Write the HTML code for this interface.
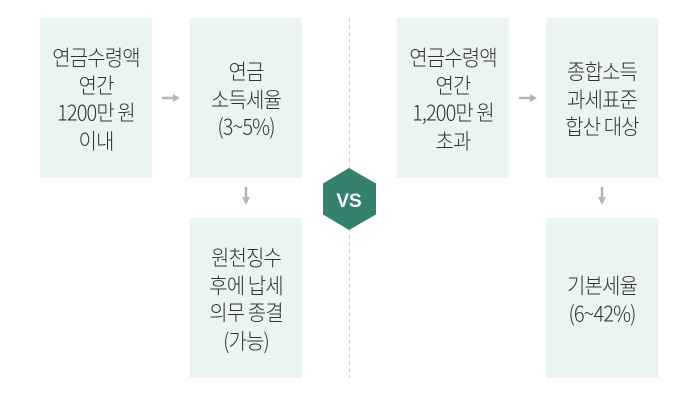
<!DOCTYPE html>
<html><head><meta charset="utf-8"><style>
body{margin:0;width:700px;height:400px;background:#fff;position:relative;overflow:hidden;font-family:"Noto Sans CJK KR","Liberation Sans",sans-serif;}
.b{position:absolute;width:112px;height:160px;background:#eaf4f2;display:flex;align-items:center;justify-content:center;text-align:center;font-size:20px;line-height:25.5px;color:#333;font-weight:300;letter-spacing:-0.9px;white-space:nowrap;}
.b span{display:inline-block;transform:scaleY(1.08);}
svg{position:absolute;left:0;top:0}
</style></head><body>
<div class="b" style="left:40px;top:18px"><span>연금수령액<br>연간<br>1200만 원<br>이내</span></div>
<div class="b" style="left:190px;top:18px"><span>연금<br>소득세율<br>(3~5%)</span></div>
<div class="b" style="left:190px;top:218px"><span>원천징수<br>후에 납세<br>의무 종결<br>(가능)</span></div>
<div class="b" style="left:397px;top:18px"><span>연금수령액<br>연간<br>1,200만 원<br>초과</span></div>
<div class="b" style="left:546px;top:18px"><span>종합소득<br>과세표준<br>합산 대상</span></div>
<div class="b" style="left:546px;top:218px"><span>기본세율<br>(6~42%)</span></div>
<svg width="700" height="400">
<line x1="349.5" y1="18" x2="349.5" y2="378" stroke="#ccc" stroke-dasharray="4,3"/>
<polygon points="349,168 376,183.5 376,214.5 349,230 323,214.5 323,183.5" fill="#35806f"/>
<text x="349" y="207" text-anchor="middle" font-family="Liberation Sans" font-weight="bold" font-size="19" fill="#fff">VS</text>
<g fill="#b5b5b5" stroke="#b5b5b5" stroke-width="2.5">
<line x1="162" y1="98" x2="174" y2="98"/><polygon points="173,94 180,98 173,102" stroke="none"/>
<line x1="519" y1="98" x2="531" y2="98"/><polygon points="530,94 537,98 530,102" stroke="none"/>
<line x1="246" y1="187" x2="246" y2="198"/><polygon points="242,197 246,205 250,197" stroke="none"/>
<line x1="602" y1="187" x2="602" y2="198"/><polygon points="598,197 602,205 606,197" stroke="none"/>
</g>
</svg>
</body></html>
